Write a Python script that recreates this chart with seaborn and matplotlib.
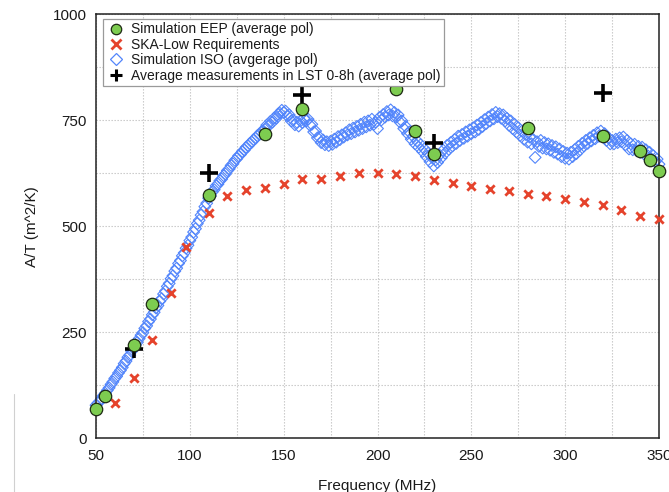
import numpy as np
import pandas as pd
import matplotlib
matplotlib.use("Agg")
import matplotlib.pyplot as plt
from matplotlib.lines import Line2D
import seaborn as sns

# ---------------- data ----------------
eep_freq = [50, 55, 70, 80, 110, 140, 160, 210, 220, 230, 280, 320, 340, 345, 350]
eep_val = [68, 100, 221, 317, 574, 717, 776, 823, 724, 670, 731, 713, 678, 656, 630]

ska_freq = [60, 70, 80, 90, 98, 110, 120, 130, 140, 150, 160, 170, 180, 190, 200,
            210, 220, 230, 240, 250, 260, 270, 280, 290, 300, 310, 320, 330, 340, 350]
ska_val = [83, 141, 232, 342, 450, 532, 572, 585, 589, 599, 611, 611, 619, 625, 626,
           623, 619, 608, 601, 595, 588, 582, 576, 571, 565, 557, 550, 537, 523, 516]

meas_freq = [70, 110, 160, 230, 320]
meas_val = [211, 626, 810, 696, 814]

iso_freq = list(range(50, 351))
iso_val = [
    78, 83, 87, 94, 101, 106, 113, 119, 127, 133,
    141, 146, 154, 160, 167, 176, 182, 191, 196, 205,
    211, 220, 226, 235, 243, 249, 259, 265, 275, 281,
    291, 297, 307, 313, 323, 329, 340, 347, 358, 365,
    376, 383, 394, 401, 412, 419, 430, 437, 448, 455,
    466, 474, 486, 494, 506, 514, 526, 534, 546, 554,
    566, 571, 581, 586, 595, 599, 607, 611, 619, 623,
    631, 635, 643, 647, 655, 659, 666, 669, 676, 679,
    686, 689, 695, 698, 704, 707, 713, 716, 722, 725,
    728, 738, 737, 747, 745, 755, 754, 764, 766, 773,
    768, 771, 760, 762, 748, 750, 739, 745, 736, 748,
    744, 755, 748, 752, 738, 740, 722, 724, 708, 710,
    697, 703, 692, 699, 690, 700, 693, 705, 698, 711,
    704, 715, 710, 720, 715, 727, 718, 731, 722, 735,
    726, 740, 730, 745, 734, 748, 738, 752, 740, 745,
    730, 756, 750, 763, 757, 770, 762, 774, 760, 768,
    757, 762, 745, 748, 730, 735, 718, 722, 705, 712,
    694, 701, 686, 692, 676, 682, 664, 672, 652, 662,
    642, 656, 650, 668, 661, 679, 672, 690, 681, 697,
    689, 704, 695, 712, 702, 716, 707, 722, 712, 727,
    718, 732, 722, 738, 728, 744, 735, 751, 742, 757,
    748, 763, 753, 768, 758, 765, 754, 762, 748, 754,
    738, 748, 730, 740, 722, 732, 714, 724, 705, 716,
    698, 710, 694, 704, 662, 699, 688, 702, 684, 697,
    682, 694, 679, 690, 674, 687, 670, 682, 664, 676,
    660, 672, 658, 674, 664, 680, 671, 688, 680, 695,
    689, 702, 695, 708, 701, 714, 706, 720, 712, 724,
    712, 718, 702, 708, 694, 702, 694, 705, 697, 708,
    699, 710, 692, 702, 682, 694, 680, 693, 678, 688,
    674, 686, 670, 680, 666, 674, 658, 666, 652, 658,
    646,
]

x_ticks = [50, 100, 150, 200, 250, 300, 350]
y_ticks = [0, 250, 500, 750, 1000]

labels = ["Simulation EEP (average pol)", "SKA-Low Requirements",
          "Simulation ISO (avgerage pol)", "Average measurements in LST 0-8h (average pol)"]

# ---------------- style ----------------
sns.set_style("white")
plt.rcParams['font.family'] = ['Liberation Sans', 'DejaVu Sans']
plt.rcParams['text.color'] = '#1a1a1a'
plt.rcParams['axes.labelcolor'] = '#1a1a1a'
plt.rcParams['xtick.color'] = '#1a1a1a'
plt.rcParams['ytick.color'] = '#1a1a1a'

GREEN = '#7dcc50'
RED = '#e5432c'
BLUE = '#5285fb'

fig = plt.figure(figsize=(6.69, 4.92), dpi=100)
W, H = 669, 492
left, right, top, bottom = 96, 659, 14, 438.3
ax = fig.add_axes([left / W, 1 - bottom / H, (right - left) / W, (bottom - top) / H])

iso_df = pd.DataFrame({"f": iso_freq, "v": iso_val})
ska_df = pd.DataFrame({"f": ska_freq, "v": ska_val})
eep_df = pd.DataFrame({"f": eep_freq, "v": eep_val})
meas_df = pd.DataFrame({"f": meas_freq, "v": meas_val})

sns.scatterplot(data=iso_df, x="f", y="v", ax=ax, marker='D', s=36,
                facecolor='none', edgecolor=BLUE, linewidth=0.8, zorder=2, clip_on=False)
sns.scatterplot(data=ska_df, x="f", y="v", ax=ax, marker='x', s=36,
                color=RED, linewidth=2.0, zorder=3, clip_on=False)
sns.scatterplot(data=meas_df, x="f", y="v", ax=ax, marker='+', s=180,
                color='black', linewidth=2.6, zorder=4, clip_on=False)
sns.scatterplot(data=eep_df, x="f", y="v", ax=ax, marker='o', s=80,
                color=GREEN, edgecolor='#1e2a14', linewidth=0.9, zorder=5, clip_on=False)

ax.set_xlim(50, 350)
ax.set_ylim(0, 1000)
ax.set_xticks(x_ticks)
ax.set_yticks(y_ticks)
ax.set_xticks(np.arange(50, 351, 25), minor=True)
ax.set_yticks(np.arange(0, 1001, 125), minor=True)
ax.grid(which='both', color='#c4c4c4', linestyle=(0, (1.2, 1.5)), linewidth=0.8)
ax.set_axisbelow(True)
ax.tick_params(axis='both', which='major', labelsize=11, length=3, width=0.8, direction='out')
ax.tick_params(axis='both', which='minor', length=0)
ax.tick_params(axis='x', pad=5)
for sp in ax.spines.values():
    sp.set_color('#222222')
    sp.set_linewidth(1.1)

ax.set_xlabel("Frequency (MHz)", fontsize=11, labelpad=11)
ax.set_ylabel("A/T (m^2/K)", fontsize=11, labelpad=10)

handles = [
    Line2D([], [], linestyle='none', marker='o', markersize=7.5, markerfacecolor=GREEN,
           markeredgecolor='#1e2a14', markeredgewidth=0.9),
    Line2D([], [], linestyle='none', marker='x', markersize=7, color=RED, markeredgewidth=2.0),
    Line2D([], [], linestyle='none', marker='D', markersize=6.5, markerfacecolor='none',
           markeredgecolor=BLUE, markeredgewidth=0.9),
    Line2D([], [], linestyle='none', marker='+', markersize=8, color='black', markeredgewidth=2.2),
]
leg = ax.legend(handles, labels, loc='upper left',
                bbox_to_anchor=((103 - left) / (right - left), 1 - (19 - top) / (bottom - top)),
                borderaxespad=0, fontsize=10, frameon=True, fancybox=False,
                handlelength=1.3, handletextpad=0.5, labelspacing=0.1, borderpad=0.25)
leg.get_frame().set_edgecolor('#9a9a9a')
leg.get_frame().set_linewidth(0.9)
leg.get_frame().set_alpha(1)
leg.set_zorder(10)

fig.add_artist(Line2D([14 / W, 14 / W], [0, 0.2], color='#d0d0d0', linewidth=0.8))

fig.savefig("out.png", dpi=100)
